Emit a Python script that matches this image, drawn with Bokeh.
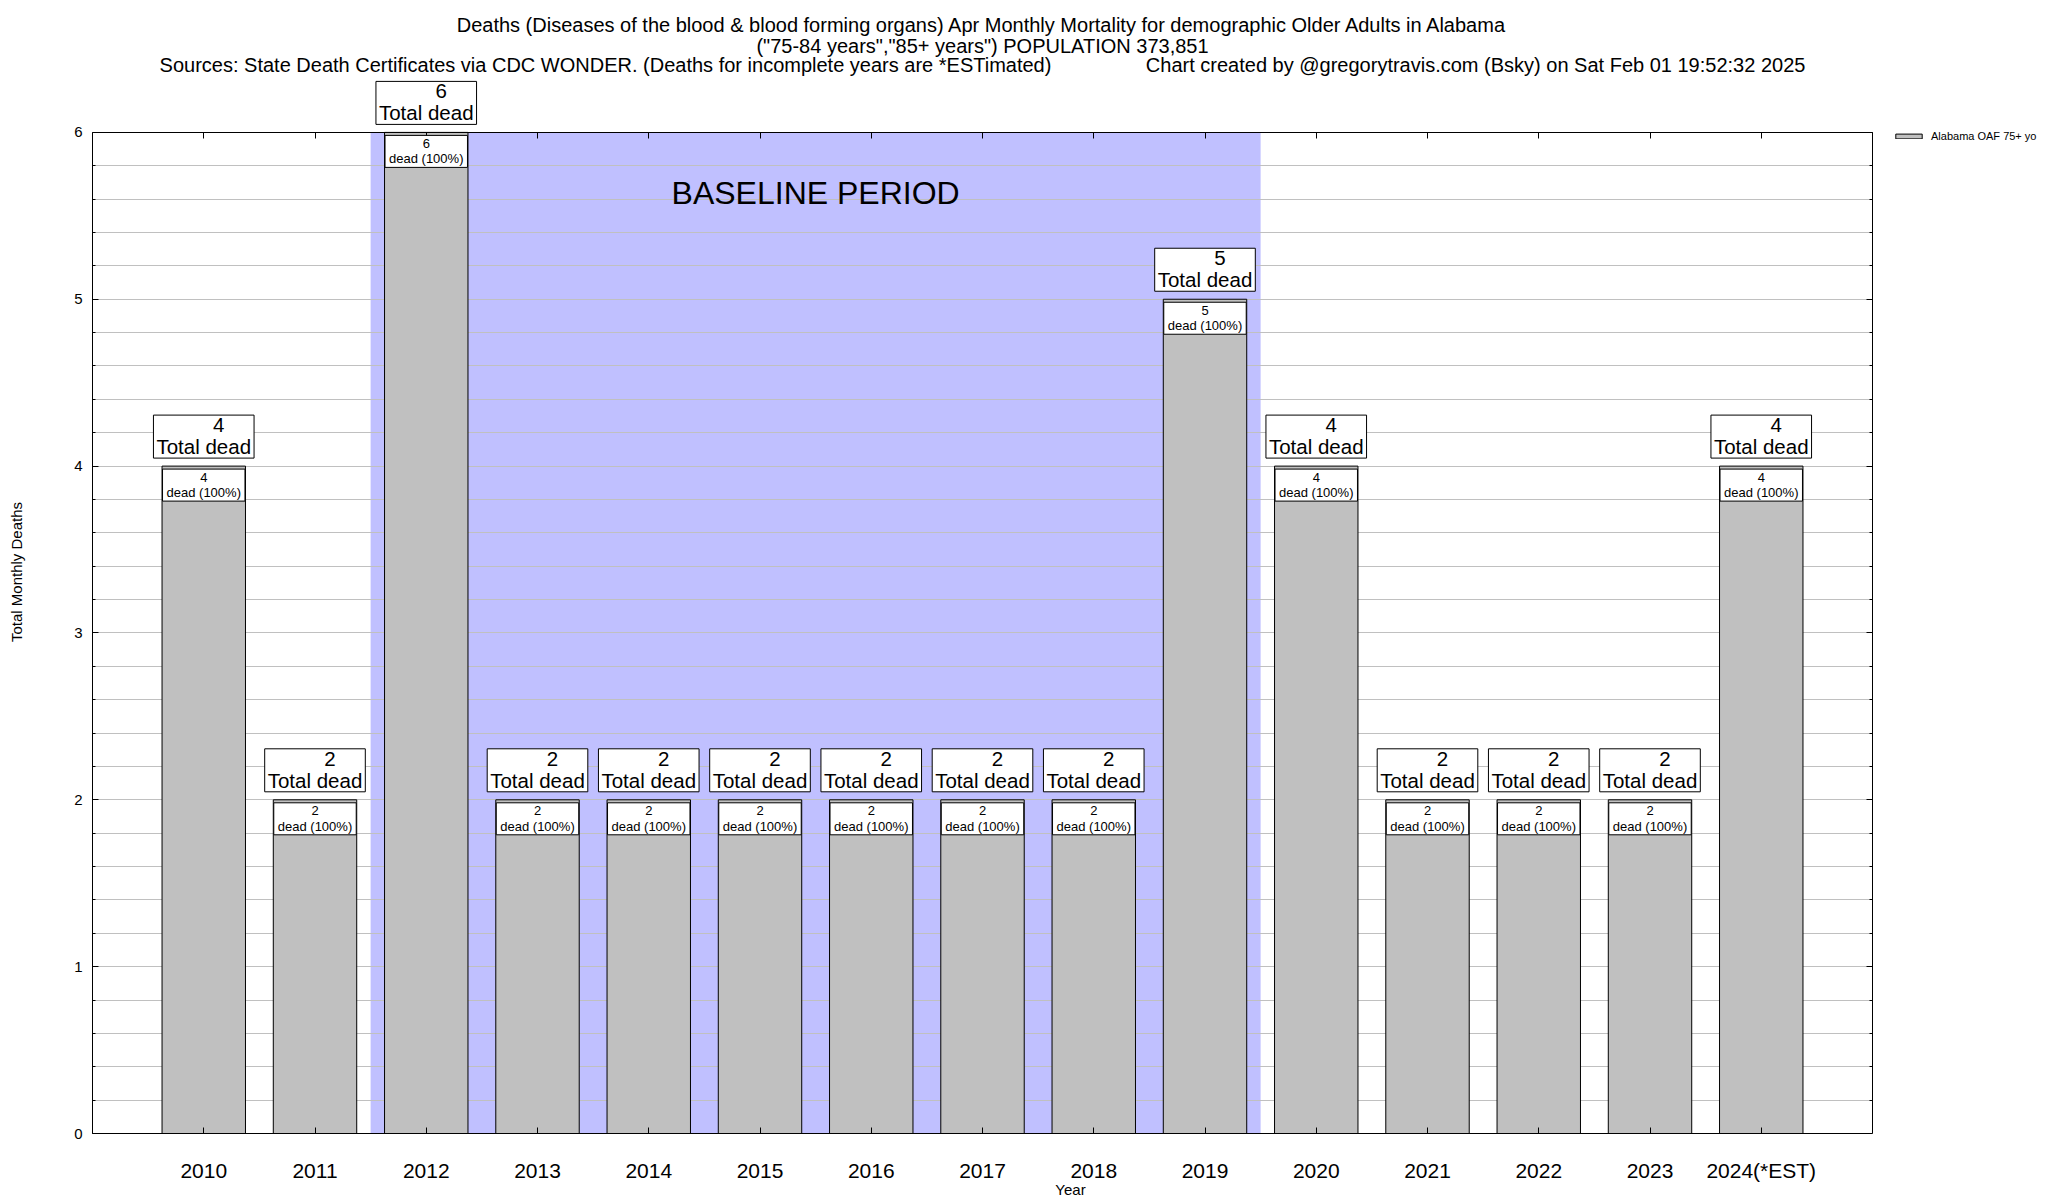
from bokeh.plotting import figure
from bokeh.models import (Range1d, FixedTicker, SingleIntervalTicker, LinearAxis,
                          Label, Legend, LegendItem, BoxAnnotation)
from bokeh.embed import file_html
from bokeh.resources import INLINE

# ---------------- data ----------------
years = ["2010", "2011", "2012", "2013", "2014", "2015", "2016", "2017",
         "2018", "2019", "2020", "2021", "2022", "2023", "2024(*EST)"]
deaths = [4, 2, 6, 2, 2, 2, 2, 2, 2, 5, 4, 2, 2, 2, 4]
pct = [100, 100, 100, 100, 100, 100, 100, 100, 100, 100, 100, 100, 100, 100, 100]
baseline_years = ["2012", "2019"]
series_name = "Alabama OAF 75+ yo"
y_max = 6

title1 = "Deaths (Diseases of the blood & blood forming organs) Apr Monthly Mortality for demographic Older Adults in Alabama"
title2 = "(\"75-84 years\",\"85+ years\") POPULATION 373,851"
title3a = "Sources: State Death Certificates via CDC WONDER. (Deaths for incomplete years are *ESTimated)"
title3b = "Chart created by @gregorytravis.com (Bsky) on Sat Feb 01 19:52:32 2025"

# ---------------- layout ----------------
FONT = "Liberation Sans"
NB = "\u00a0"
PX_PER_UNIT = 167.0       # vertical pixels per death
HEAD_PX = 122             # room above the value axis top (titles live there)
PX_PER_CAT = 111.25       # horizontal pixels per year
SIDE_PX = 176             # room right of the value area (legend lives there)
idx = list(range(len(years)))
x_start, x_axis_end = -1, len(years)
x_end = x_axis_end + SIDE_PX / PX_PER_CAT
y_top = y_max + HEAD_PX / PX_PER_UNIT

p = figure(width=2048, height=1200, output_backend="svg", toolbar_location=None,
           title=None,
           x_range=Range1d(x_start, x_end), y_range=Range1d(0, y_top),
           min_border_left=92, min_border_right=0, min_border_top=10,
           min_border_bottom=67)
p.outline_line_color = None
p.background_fill_color = "white"

# baseline period shading
b0 = years.index(baseline_years[0])
b1 = years.index(baseline_years[1])
p.add_layout(BoxAnnotation(left=b0 - 0.5, right=b1 + 0.5, bottom=0, top=y_max,
                           fill_color="#c0c0ff", fill_alpha=1, line_color=None,
                           level="image"))

# bars
bars = p.vbar(x=idx, top=deaths, width=0.75, fill_color="#c0c0c0",
              line_color="black", line_width=1)

# keep the legend room clean of grid lines
p.add_layout(BoxAnnotation(left=x_axis_end, fill_color="white", fill_alpha=1,
                           line_color=None, level="glyph"))

# axes
y_ticker = SingleIntervalTicker(interval=1, num_minor_ticks=5)
x_ticker = FixedTicker(ticks=idx)

p.xaxis.ticker = x_ticker
p.xaxis.bounds = (x_start, x_axis_end)
p.xaxis.major_label_overrides = {i: y for i, y in enumerate(years)}
p.xaxis.major_tick_in = 6
p.xaxis.major_tick_out = 0
p.xaxis.minor_tick_line_color = None
p.xaxis.major_label_text_font = FONT
p.xaxis.major_label_text_font_size = "21px"
p.xaxis.major_label_text_color = "black"
p.xaxis.major_label_standoff = 25
p.xaxis.axis_label = "Year"
p.xaxis.axis_label_text_font = FONT
p.xaxis.axis_label_text_font_size = "15px"
p.xaxis.axis_label_text_font_style = "normal"
p.xaxis.axis_label_text_color = "black"
p.xaxis.axis_label_standoff = -4
p.xaxis.axis_line_color = "black"
p.xaxis.major_tick_line_color = "black"

p.yaxis.ticker = y_ticker
p.yaxis.bounds = (0, y_max)
p.yaxis.major_tick_in = 6
p.yaxis.major_tick_out = 0
p.yaxis.minor_tick_in = 3
p.yaxis.minor_tick_out = 0
p.yaxis.major_label_text_font = FONT
p.yaxis.major_label_text_font_size = "15px"
p.yaxis.major_label_text_color = "black"
p.yaxis.major_label_standoff = 10
p.yaxis.axis_label = "Total Monthly Deaths"
p.yaxis.axis_label_text_font = FONT
p.yaxis.axis_label_text_font_size = "15px"
p.yaxis.axis_label_text_font_style = "normal"
p.yaxis.axis_label_text_color = "black"
p.yaxis.axis_label_standoff = 46
p.yaxis.axis_line_color = "black"
p.yaxis.major_tick_line_color = "black"
p.yaxis.minor_tick_line_color = "black"

# top border with ticks at the top of the value axis
top_ax = LinearAxis(ticker=x_ticker, fixed_location=y_max, bounds=(x_start, x_axis_end),
                    major_tick_in=6, major_tick_out=0, minor_tick_line_color=None,
                    major_label_text_color=None, axis_line_color="black",
                    major_tick_line_color="black")
p.add_layout(top_ax, "above")

# right border with ticks at the end of the year axis
right_ax = LinearAxis(ticker=y_ticker, fixed_location=x_axis_end, bounds=(0, y_max),
                      major_tick_in=6, major_tick_out=0, minor_tick_in=3, minor_tick_out=0,
                      major_label_text_color=None, major_label_standoff=0,
                      axis_line_color="black", major_tick_line_color="black",
                      minor_tick_line_color="black")
p.add_layout(right_ax, "right")

p.xgrid.visible = False
p.ygrid.ticker = y_ticker
p.ygrid.bounds = (0, y_max)
p.ygrid.grid_line_color = "#c0c0c0"
p.ygrid.grid_line_alpha = 1
p.ygrid.minor_grid_line_color = "#c0c0c0"
p.ygrid.minor_grid_line_alpha = 1

# titles (inside the head room)
x_mid = (x_start + x_axis_end) / 2
for txt, off in [(title1, 107), (title2, 86), (title3a + NB * 17 + title3b, 67)]:
    p.add_layout(Label(x=x_mid, y=y_max, y_offset=off, text=txt, text_align="center",
                       text_baseline="middle", text_font=FONT, text_font_size="20px",
                       text_color="black"))

# value labels: outer "N / Total dead" box above the bar, inner "N / dead (x%)" box inside
# padding tuples are (left, right, top, bottom)
for i, v in enumerate(deaths):
    p.add_layout(Label(x=i, y=v, y_offset=8, text="Total dead",
                       text_align="center", text_baseline="bottom", text_font=FONT,
                       text_font_size="20.5px", text_color="black",
                       background_fill_color="white", background_fill_alpha=1,
                       border_line_color="black", border_line_width=1,
                       padding=(3, 3, 20, 0)))
    p.add_layout(Label(x=i, y=v, x_offset=15, y_offset=41, text=f"{v}",
                       text_align="center", text_baseline="alphabetic", text_font=FONT,
                       text_font_size="20.5px", text_color="black"))
    p.add_layout(Label(x=i, y=v, y_offset=-35, text=f"dead ({pct[i]}%)",
                       text_align="center", text_baseline="bottom", text_font=FONT,
                       text_font_size="13px", text_color="black",
                       background_fill_color="white", background_fill_alpha=1,
                       border_line_color="black", border_line_width=1,
                       padding=(4, 4, 16, 1)))
    p.add_layout(Label(x=i, y=v, y_offset=-11, text=f"{v}",
                       text_align="center", text_baseline="alphabetic", text_font=FONT,
                       text_font_size="13px", text_color="black"))

p.add_layout(Label(x=(b0 + b1) / 2, y=5.635, text="BASELINE PERIOD", text_align="center",
                   text_baseline="middle", text_font=FONT, text_font_size="32px",
                   text_color="black"))

legend = Legend(items=[LegendItem(label=series_name, renderers=[bars])],
                location=(1800, 991), border_line_color=None, background_fill_alpha=0,
                label_text_font=FONT, label_text_font_size="11px", label_text_color="black",
                glyph_width=33, glyph_height=6, padding=0, margin=0, label_height=12,
                label_standoff=6)
p.add_layout(legend, "center")

open("out.html", "w").write(file_html(p, INLINE))
